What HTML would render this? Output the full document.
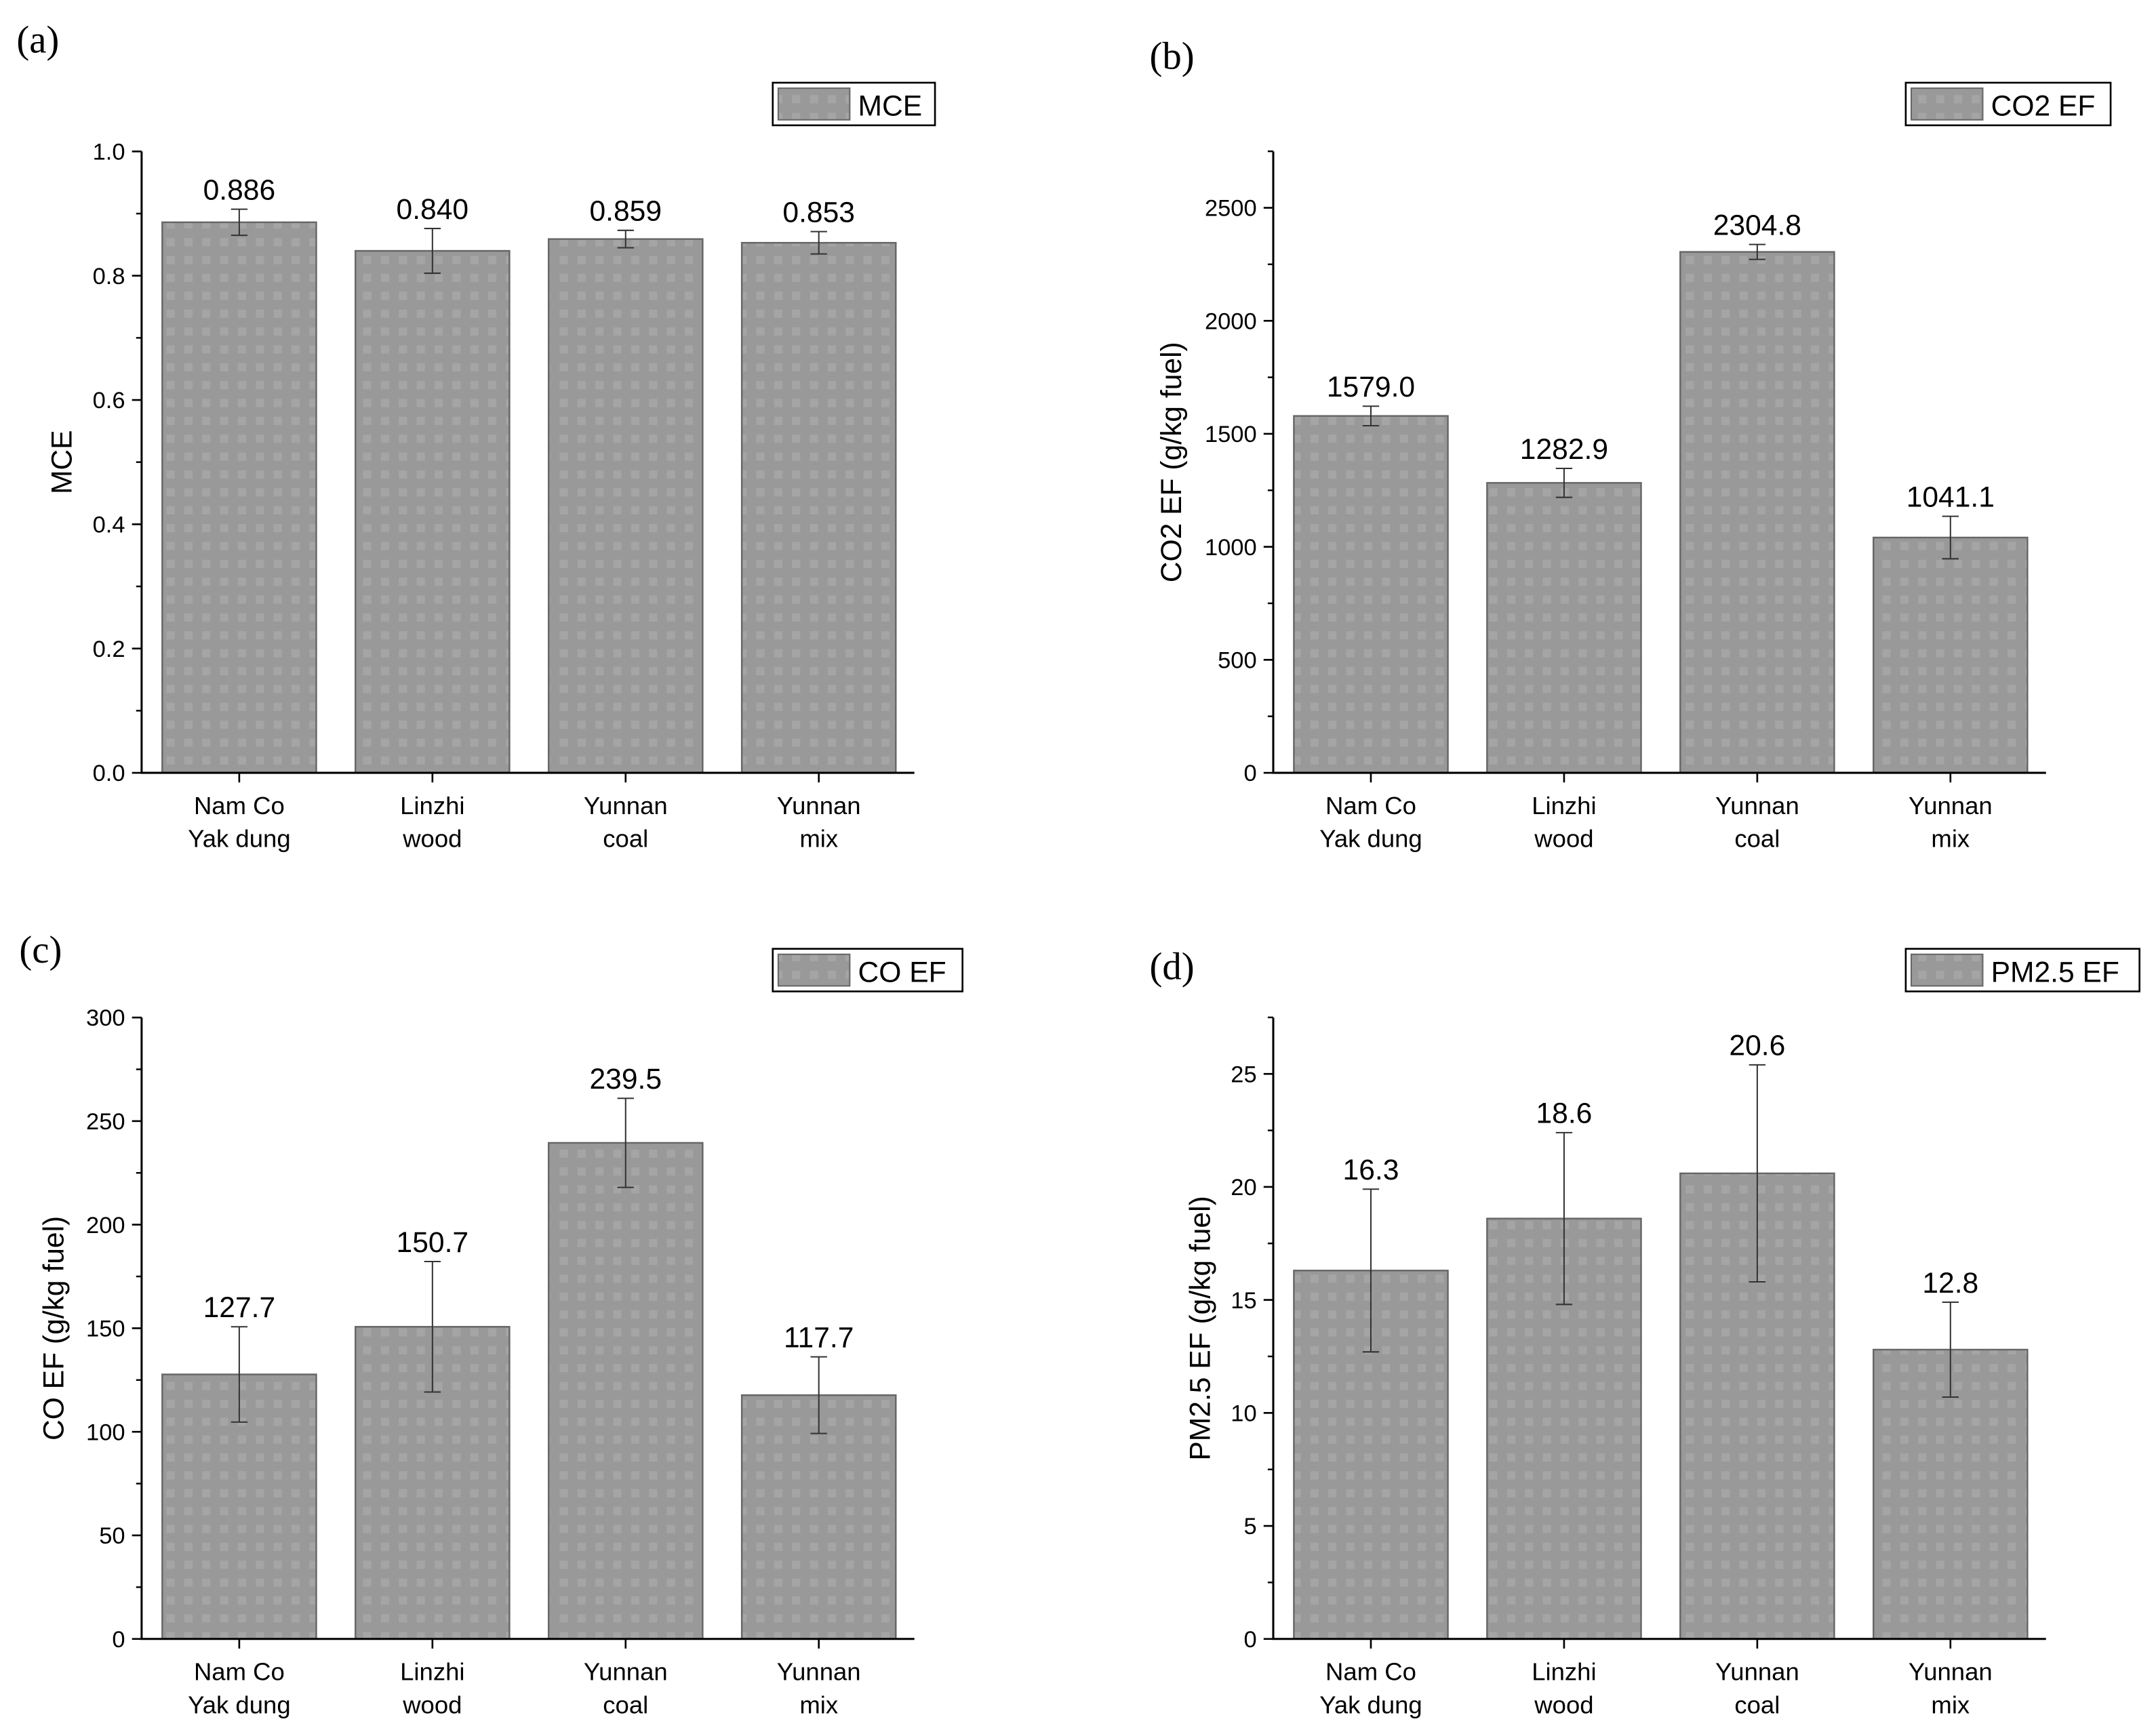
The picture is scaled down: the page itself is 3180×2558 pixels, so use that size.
<!DOCTYPE html>
<html><head><meta charset="utf-8"><style>
html,body{margin:0;padding:0;background:#fff}
svg{display:block}
text{font-family:"Liberation Sans",sans-serif}
</style></head><body>
<svg id="fig" width="3180" height="2558" viewBox="0 0 1568 1261" xmlns="http://www.w3.org/2000/svg">
<defs>
<pattern id="tex" width="13" height="13" patternUnits="userSpaceOnUse">
<rect width="13" height="13" fill="#999999"/>
<rect x="4" y="4" width="6" height="6" fill="#a5a5a5"/>
</pattern>
</defs>
</svg>
<script>
const categories = [["Nam Co","Yak dung"],["Linzhi","wood"],["Yunnan","coal"],["Yunnan","mix"]];
const mceValues = [0.886, 0.840, 0.859, 0.853];
const mceErrors = [0.021, 0.036, 0.014, 0.018];
const mceLabels = ["0.886","0.840","0.859","0.853"];
const co2Values = [1579.0, 1282.9, 2304.8, 1041.1];
const co2Errors = [43, 64, 33, 94];
const co2Labels = ["1579.0","1282.9","2304.8","1041.1"];
const coValues = [127.7, 150.7, 239.5, 117.7];
const coErrors = [23, 31.5, 21.5, 18.5];
const coLabels = ["127.7","150.7","239.5","117.7"];
const pmValues = [16.3, 18.6, 20.6, 12.8];
const pmErrors = [3.6, 3.8, 4.8, 2.1];
const pmLabels = ["16.3","18.6","20.6","12.8"];
const mceTicks = ["0.0","0.2","0.4","0.6","0.8","1.0"];
const co2Ticks = ["0","500","1000","1500","2000","2500"];
const coTicks = ["0","50","100","150","200","250","300"];
const pmTicks = ["0","5","10","15","20","25"];

const NS = "http://www.w3.org/2000/svg";
const svg = document.getElementById("fig");
function mk(tag, attrs, parent, txt){
  const e = document.createElementNS(NS, tag);
  for (const k in attrs) e.setAttribute(k, attrs[k]);
  if (txt !== undefined) e.textContent = txt;
  (parent||svg).appendChild(e);
  return e;
}

function panel(cfg){
  const g = mk("g", {});
  
  
  const x0 = cfg.x0, xEnd = x0 + 562, yB = cfg.yBottom, yT = cfg.yTop;
  const yScale = v => yB - (v - cfg.min) / (cfg.vmax - cfg.min) * (yB - cfg.yMaxPx);
  const xCenter = i => x0 + 71 + i * 140.5;
  const pl = mk("text", {x: cfg.lx, y: cfg.ly, "font-size": 28, style: "font-family:'Liberation Serif',serif"}, g, cfg.letter);
  
  
  cfg.values.forEach((v, i) => {
    const yv = yScale(v);
    const b = mk("rect", {x: xCenter(i) - 56, y: yv, width: 112, height: yB - yv, fill: "url(#tex)", stroke: "#666", "stroke-width": 1.2}, g);
    
    
    const e = cfg.errors[i], yt = yScale(v + e), yb = yScale(v - e), cx = xCenter(i);
    const eb = mk("path", {d: `M${cx} ${yt}V${yb}M${cx-6} ${yt}H${cx+6}M${cx-6} ${yb}H${cx+6}`, stroke: "#333", "stroke-width": 1, fill: "none"}, g);
    
    
    const t = mk("text", {x: cx, y: yt - 7, "text-anchor": "middle", "font-size": 21}, g, cfg.labels[i]);
    
    
    const c1 = mk("text", {x: cx, y: yB + 30, "text-anchor": "middle", "font-size": 18}, g, categories[i][0]);
    
    
    const c2 = mk("text", {x: cx, y: yB + 54, "text-anchor": "middle", "font-size": 18}, g, categories[i][1]);
    
    
    mk("line", {x1: cx, x2: cx, y1: yB, y2: yB + 7, stroke: "#000", "stroke-width": 1.3}, g);
  });
  const ax = mk("path", {d: `M${x0} ${yT}V${yB}H${xEnd}`, stroke: "#000", "stroke-width": 1.5, fill: "none"}, g);
  
  
  cfg.ticks.forEach((lab, i) => {
    const v = cfg.min + i * cfg.step, y = yScale(v);
    mk("line", {x1: x0 - 7, x2: x0, y1: y, y2: y, stroke: "#000", "stroke-width": 1.3}, g);
    const t = mk("text", {x: x0 - 12, y: y + 6, "text-anchor": "end", "font-size": 17}, g, lab);
    
    
    const vm = v + cfg.step / 2, ym = yScale(vm);
    if (ym >= yT - 0.5) mk("line", {x1: x0 - 4, x2: x0, y1: ym, y2: ym, stroke: "#000", "stroke-width": 1.2}, g);
  });
  const yt = mk("text", {x: cfg.titleX, y: (yT + yB) / 2, "text-anchor": "middle", "font-size": 21, transform: `rotate(-90 ${cfg.titleX} ${(yT+yB)/2})`}, g, cfg.title);
  
  
  const lg = mk("g", {}, g);
  
  
  mk("rect", {x: cfg.legX, y: cfg.legY, width: cfg.legW, height: 31, fill: "#fff", stroke: "#000", "stroke-width": 1.3}, lg);
  mk("rect", {x: cfg.legX + 4, y: cfg.legY + 4, width: 52, height: 23, fill: "url(#tex)", stroke: "#666", "stroke-width": 1}, lg);
  mk("text", {x: cfg.legX + 62, y: cfg.legY + 24, "font-size": 21}, lg, cfg.legend);
}

panel({name:"panel-a-mce", letter:"(a)", lx:12, ly:38, x0:103, yBottom:562, yTop:110, yMaxPx:110, min:0, vmax:1.0, step:0.2,
  values:mceValues, errors:mceErrors, labels:mceLabels, ticks:mceTicks, title:"MCE", titleX:52,
  legX:562, legY:60, legW:118, legend:"MCE"});
panel({name:"panel-b-co2", letter:"(b)", lx:836, ly:50, x0:926, yBottom:562, yTop:110, yMaxPx:151, min:0, vmax:2500, step:500,
  values:co2Values, errors:co2Errors, labels:co2Labels, ticks:co2Ticks, title:"CO2 EF (g/kg fuel)", titleX:859,
  legX:1386, legY:60, legW:149, legend:"CO2 EF"});
panel({name:"panel-c-co", letter:"(c)", lx:14, ly:700, x0:103, yBottom:1192, yTop:740, yMaxPx:740, min:0, vmax:300, step:50,
  values:coValues, errors:coErrors, labels:coLabels, ticks:coTicks, title:"CO EF (g/kg fuel)", titleX:46,
  legX:562, legY:690, legW:138, legend:"CO EF"});
panel({name:"panel-d-pm25", letter:"(d)", lx:836, ly:712, x0:926, yBottom:1192, yTop:740, yMaxPx:781, min:0, vmax:25, step:5,
  values:pmValues, errors:pmErrors, labels:pmLabels, ticks:pmTicks, title:"PM2.5 EF (g/kg fuel)", titleX:880,
  legX:1386, legY:690, legW:170, legend:"PM2.5 EF"});
</script>
</body></html>
